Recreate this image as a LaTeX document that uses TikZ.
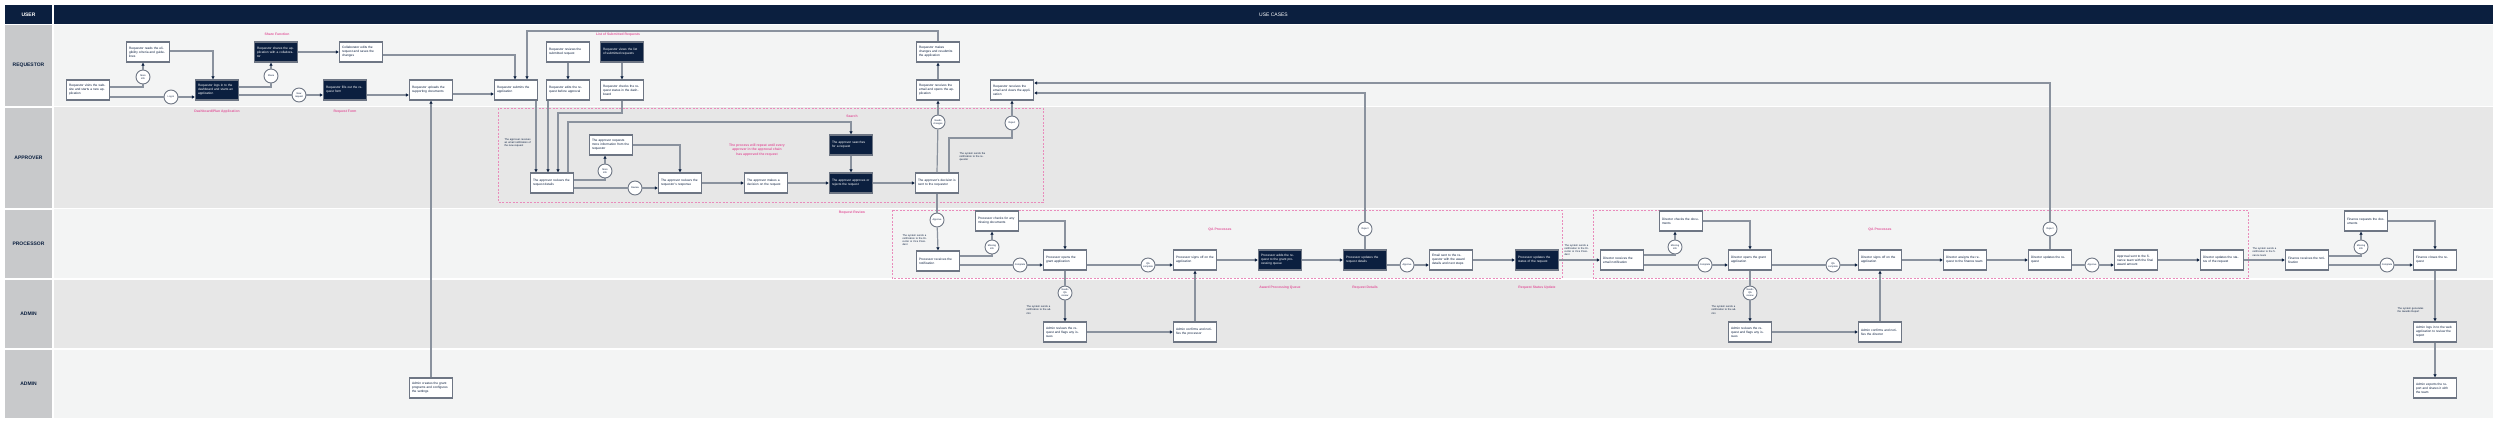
\documentclass[tikz,border=0pt]{standalone}
\usepackage{fontspec}
\setmainfont{Liberation Sans}
\usetikzlibrary{arrows.meta,calc}
\definecolor{navy}{HTML}{0B1F3F}
\definecolor{lanegray}{HTML}{C8C9CB}
\definecolor{lanelight}{HTML}{F3F4F4}
\definecolor{lanedark}{HTML}{E7E7E7}
\definecolor{boxline}{HTML}{6E7684}
\definecolor{linecol}{HTML}{8A929E}
\definecolor{pinkc}{HTML}{E2589C}
\definecolor{pinkd}{HTML}{E98BBB}
\tikzset{
  box/.style={draw=boxline, fill=white, line width=1.2pt, minimum width=43pt, minimum height=20pt,
    text width=38pt, align=left, font=\fontsize{3.2}{4}\selectfont, text=navy, inner sep=1.5pt},
  dbox/.style={box, fill=navy, text=white},
  dec/.style={circle, draw=boxline, fill=white, line width=0.9pt, minimum size=14pt, inner sep=0pt,
    align=center, font=\fontsize{2.4}{2.9}\selectfont, text=navy},
  conn/.style={draw=linecol, line width=1.2pt},
  arr/.style={conn, -{Latex[length=3pt,width=3.6pt,color=navy]}},
  note/.style={font=\fontsize{2.6}{3.2}\selectfont, text=navy, align=left, text width=27pt, inner sep=0pt},
  plabel/.style={font=\bfseries\fontsize{3.4}{4.2}\selectfont, text=pinkc, align=center, inner sep=0pt},
  pinkbox/.style={draw=pinkd, line width=0.9pt, dash pattern=on 2pt off 1.5pt},
  lanelab/.style={fill=lanegray, minimum width=47pt, text=navy, font=\bfseries\fontsize{5}{6}\selectfont, inner sep=0pt},
}
\begin{document}
\begin{tikzpicture}[x=1pt,y=-1pt]
\useasboundingbox (0,0) rectangle (2500,424);
\fill[white] (0,0) rectangle (2500,424);
% header
\node[fill=navy, minimum width=47pt, minimum height=19pt, text=white, font=\bfseries\fontsize{5}{6}\selectfont, inner sep=0pt] (huser) at (28.5,14.5) {USER};
\node[fill=navy, minimum width=2439pt, minimum height=19pt, text=white, font=\fontsize{5}{6}\selectfont, inner sep=0pt] (hcases) at (1273.5,14.5) {USE CASES};
% lanes
\fill[lanelight] (54,25) rectangle (2493,106);
\fill[lanedark] (54,107) rectangle (2493,208);
\fill[lanelight] (54,209) rectangle (2493,278);
\fill[lanedark] (54,279.5) rectangle (2493,348);
\fill[lanelight] (54,349.5) rectangle (2493,418);
\node[lanelab, minimum height=81pt] (lreq) at (28.5,65.5) {REQUESTOR};
\node[lanelab, minimum height=100pt] (lapp) at (28.5,157.5) {APPROVER};
\node[lanelab, minimum height=68pt] (lpro) at (28.5,243.5) {PROCESSOR};
\node[lanelab, minimum height=68pt] (ladm) at (28.5,314) {ADMIN};
\node[lanelab, minimum height=68pt] (ladm2) at (28.5,384) {ADMIN};
% pink groups
\draw[pinkbox] (498,108) rectangle (1043,202);
\draw[pinkbox] (892,210) rectangle (1562,278);
\draw[pinkbox] (1593,210) rectangle (2248,278);
% helper coordinates
\coordinate (y31) at (0,31);
\coordinate (y83) at (0,83);
\coordinate (y93) at (0,93);
\coordinate (y113) at (0,113);
\coordinate (y122) at (0,122);
\coordinate (y138) at (0,138);
% requestor lane
\node[box] (r1) at (88,90) {Requestor visits the website and starts a new application};
\node[box] (r2) at (148,52) {Requestor reads the eligibility criteria and guidelines};
\node[dec] (c1) at (143,77) {More\\info};
\node[dec] (c2) at (171,97) {Log in};
\node[dbox] (d1) at (217,90) {Requestor logs in to the dashboard and starts an application};
\node[dbox] (d2) at (276,52) {Requestor shares the application with a collaborator};
\node[dec] (c3) at (271,76) {Share};
\node[dec] (c4) at (299,95) {New\\request};
\node[dbox] (d3) at (345,90) {Requestor fills out the request form};
\node[box] (r3) at (361,52) {Collaborator edits the request and saves the changes};
\node[box] (r4) at (431,90) {Requestor uploads the supporting documents};
\node[box] (r5) at (516,90) {Requestor submits the application};
\node[box] (r6) at (568,52) {Requestor reviews the submitted request};
\node[box] (r7) at (568,90) {Requestor edits the request before approval};
\node[dbox] (d4) at (622,52) {Requestor views the list of submitted requests};
\node[box] (r8) at (622,90) {Requestor checks the request status in the dashboard};
\node[box] (rqtop) at (938,52) {Requestor makes changes and resubmits the application};
\node[box] (rqmid) at (938,90) {Requestor receives the email and opens the application};
\node[box] (rq2) at (1012,90) {Requestor receives the email and views the application};
\node[plabel] (lb1) at (277,34) {Share Function};
\node[plabel] (lb2) at (217,112) {Dashboard/Plan Application};
\node[plabel] (lb3) at (345,112) {Request Form};
\node[plabel] (lb4) at (618,35) {List of Submitted Requests};
% approver lane
\node[box] (a1) at (552,183) {The approver reviews the request details};
\node[box] (r9) at (611,145) {The approver requests more information from the requestor};
\node[dec] (c5) at (605,171) {More\\info};
\node[dec] (c6) at (635,188) {Review};
\node[box] (a2) at (680,183) {The approver reviews the requestor's response};
\node[box] (a3) at (766,183) {The approver makes a decision on the request};
\node[dbox] (d5) at (851,145) {The approver searches for a request};
\node[dbox] (d6) at (851,183) {The approver approves or rejects the request};
\node[box] (a4) at (937,183) {The approver's decision is sent to the requestor};
\node[dec] (c7) at (938,122) {Needs\\changes};
\node[dec] (c8) at (1012,123) {Reject};
\node[plabel] (lb5) at (852,116) {Search};
\node[plabel] (lb6) at (757,150) {The process will repeat until every\\approver in the approval chain\\has approved the request};
\node[note] (n1) at (518,143) {The approver receives an email notification of the new request};
\node[note] (n2) at (973,157) {The system sends the notification to the requestor};
% processor lane
\node[dec] (c9) at (937,220) {Approve};
\node[box] (p1) at (938,261) {Processor receives the notification};
\node[box] (p2) at (997,221) {Processor checks for any missing documents};
\node[dec] (c10) at (992,247) {Missing\\info};
\node[dec] (c11) at (1020,265) {Complete};
\node[box] (p3) at (1065,260) {Processor opens the grant application};
\node[dec] (c12) at (1065,293) {Needs\\QA\\review};
\node[box] (p4) at (1195,260) {Processor signs off on the application};
\node[dec] (c13) at (1148,265) {QA\\complete};
\node[dbox] (d7) at (1280,260) {Processor adds the request to the grant processing queue};
\node[dbox] (d8) at (1365,260) {Processor updates the request details};
\node[dec] (c14) at (1365,229) {Reject};
\node[dec] (c15) at (1407,265) {Approve};
\node[box] (p5) at (1451,260) {Email sent to the requestor with the award details and next steps};
\node[dbox] (d9) at (1537,260) {Processor updates the status of the request};
\node[box] (p6) at (1622,260) {Director receives the email notification};
\node[dec] (c16) at (1675,247) {Missing\\info};
\node[box] (p7) at (1681,221) {Director checks the documents};
\node[dec] (c17) at (1705,265) {Complete};
\node[box] (p8) at (1750,260) {Director opens the grant application};
\node[dec] (c18) at (1750,293) {Needs\\QA\\review};
\node[box] (p9) at (1880,260) {Director signs off on the application};
\node[dec] (c19) at (1833,265) {QA\\complete};
\node[box] (p10) at (1965,260) {Director assigns the request to the finance team};
\node[box] (p11) at (2050,260) {Director updates the request};
\node[dec] (c20) at (2050,229) {Reject};
\node[dec] (c21) at (2092,265) {Approve};
\node[box] (p12) at (2136,260) {Approval sent to the finance team with the final award amount};
\node[box] (p13) at (2222,260) {Director updates the status of the request};
\node[box] (p14) at (2307,260) {Finance receives the notification};
\node[dec] (c22) at (2361,247) {Missing\\info};
\node[box] (p15) at (2366,221) {Finance requests the documents};
\node[dec] (c23) at (2387,265) {Complete};
\node[box] (p16) at (2435,260) {Finance closes the request};
\node[plabel] (lb7) at (852,213) {Request Review};
\node[plabel] (lb8) at (1220,230) {QA Processes};
\node[plabel] (lb9) at (1280,288) {Award Processing Queue};
\node[plabel] (lb10) at (1365,288) {Request Details};
\node[plabel] (lb11) at (1537,288) {Request Status Update};
\node[plabel] (lb12) at (1880,230) {QA Processes};
\node[note] (n3) at (916,240) {The system sends a notification to the Director or Vice President};
\node[note] (n4) at (1040,310) {The system sends a notification to the admin};
\node[note] (n5) at (1578,250) {The system sends a notification to the Director or Vice President};
\node[note] (n6) at (1725,310) {The system sends a notification to the admin};
\node[note] (n7) at (2266,252) {The system sends a notification to the finance team};
\node[note] (n8) at (2411,310) {The system generates the Awards Report};
% admin lanes
\node[box] (a5) at (1065,332) {Admin reviews the request and flags any issues};
\node[box] (a6) at (1195,332) {Admin confirms and notifies the processor};
\node[box] (a7) at (1750,332) {Admin reviews the request and flags any issues};
\node[box] (a8) at (1880,332) {Admin confirms and notifies the director};
\node[box] (a9) at (2435,332) {Admin logs in to the web application to review the report};
\node[box] (b1) at (431,388) {Admin creates the grant programs and configures the settings};
\node[box] (a10) at (2435,388) {Admin exports the report and shares it with the team};
% connectors: requestor
\draw[conn] ([yshift=3pt]r1.east) -| (c1);
\draw[arr] (c1) -- (c1 |- r2.south);
\draw[conn] (r1.east |- c2) -- (c2);
\draw[arr] (c2) -- (d1.west |- c2);
\draw[arr] ([yshift=1pt]r2.east) -| ([xshift=-4pt]d1.north);
\draw[conn] ([yshift=3pt]d1.east) -| (c3);
\draw[arr] (c3) -- (c3 |- d2.south);
\draw[conn] (d1.east |- c4) -- (c4);
\draw[arr] (c4) -- (d3.west |- c4);
\draw[arr] (d2.east) -- (r3.west |- d2.east);
\draw[arr] ([yshift=-3pt]r3.east) -| ([xshift=-1pt]r5.north);
\draw[arr] ([yshift=-5pt]d3.east) -- ([yshift=-5pt]r4.west);
\draw[arr] ([yshift=-4pt]r4.east) -- ([yshift=-4pt]r5.west);
\draw[arr] (b1.north) -- (r4.south);
\draw[arr] (rqtop.north) -- (rqtop.north |- y31) -| ([xshift=11pt]r5.north);
\draw[arr] (r6) -- (r7);
\draw[arr] (d4) -- (r8);
% connectors: approver
\coordinate (r5b) at ([xshift=20pt]r5.south);
\coordinate (r7b) at ([xshift=-20pt]r7.south);
\draw[arr] (r5b) -- (r5b |- a1.north);
\draw[arr] (r7b) -- (r7b |- a1.north);
\draw[arr] (r8.south) -- (r8.south |- y113) -| ([xshift=6pt]a1.north);
\coordinate (a1t) at ([xshift=16pt]a1.north);
\draw[arr] (a1t) -- (a1t |- y122) -| (d5.north);
\draw[conn] ([yshift=3pt]a1.east) -| (c5);
\draw[arr] (c5) -- (c5 |- r9.south);
\draw[conn] (a1.east |- c6) -- (c6);
\draw[arr] (c6) -- (a2.west |- c6);
\draw[arr] (r9.east) -| (a2.north);
\draw[arr] (a2) -- (a3);
\draw[arr] (a3) -- (d6);
\draw[arr] (d5) -- (d6);
\draw[arr] (d6) -- (a4);
\draw[conn] (a4.north) -- (c7);
\draw[arr] (c7) -- (rqmid.south);
\draw[arr] (rqmid) -- (rqtop);
\coordinate (a4t) at ([xshift=12pt]a4.north);
\draw[conn] (a4t) -- (a4t |- y138) -| (c8);
\draw[arr] (c8) -- (rq2.south);
% connectors: processor
\draw[conn] (a4.south) -- (c9);
\draw[arr] (c9) -- (p1.north);
\draw[conn] ([yshift=5pt]p1.east) -| (c10);
\draw[arr] (c10) -- (c10 |- p2.south);
\draw[conn] (p1.east |- c11) -- (c11);
\draw[arr] (c11) -- (p3.west |- c11);
\draw[arr] (p2.east) -| (p3.north);
\draw[conn] (p3.south) -- (c12);
\draw[arr] (c12) -- (a5.north);
\draw[arr] (a5) -- (a6);
\draw[arr] (a6) -- (p4);
\draw[conn] (p3.east |- c13) -- (c13);
\draw[arr] (c13) -- (p4.west |- c13);
\draw[arr] (p4) -- (d7);
\draw[arr] (d7) -- (d8);
\draw[conn] (d8.north) -- (c14);
\draw[arr] (c14) -- (c14 |- y93) -- (rq2.east |- y93);
\draw[conn] (d8.east |- c15) -- (c15);
\draw[arr] (c15) -- (p5.west |- c15);
\draw[arr] (p5) -- (d9);
\draw[arr] (d9) -- (p6);
\draw[conn] ([yshift=5pt]p6.east) -| (c16);
\draw[arr] (c16) -- (c16 |- p7.south);
\draw[conn] (p6.east |- c17) -- (c17);
\draw[arr] (c17) -- (p8.west |- c17);
\draw[arr] (p7.east) -| (p8.north);
\draw[conn] (p8.south) -- (c18);
\draw[arr] (c18) -- (a7.north);
\draw[arr] (a7) -- (a8);
\draw[arr] (a8) -- (p9);
\draw[conn] (p8.east |- c19) -- (c19);
\draw[arr] (c19) -- (p9.west |- c19);
\draw[arr] (p9) -- (p10);
\draw[arr] (p10) -- (p11);
\draw[conn] (p11.north) -- (c20);
\draw[arr] (c20) -- (c20 |- y83) -- (rq2.east |- y83);
\draw[conn] (p11.east |- c21) -- (c21);
\draw[arr] (c21) -- (p12.west |- c21);
\draw[arr] (p12) -- (p13);
\draw[arr] (p13) -- (p14);
\draw[conn] ([yshift=4pt]p14.east) -| (c22);
\draw[arr] (c22) -- (c22 |- p15.south);
\draw[conn] (p14.east |- c23) -- (c23);
\draw[arr] (c23) -- (p16.west |- c23);
\draw[arr] (p15.east) -| (p16.north);
\draw[arr] (p16) -- (a9);
\draw[arr] (a9) -- (a10);
\end{tikzpicture}
\end{document}
